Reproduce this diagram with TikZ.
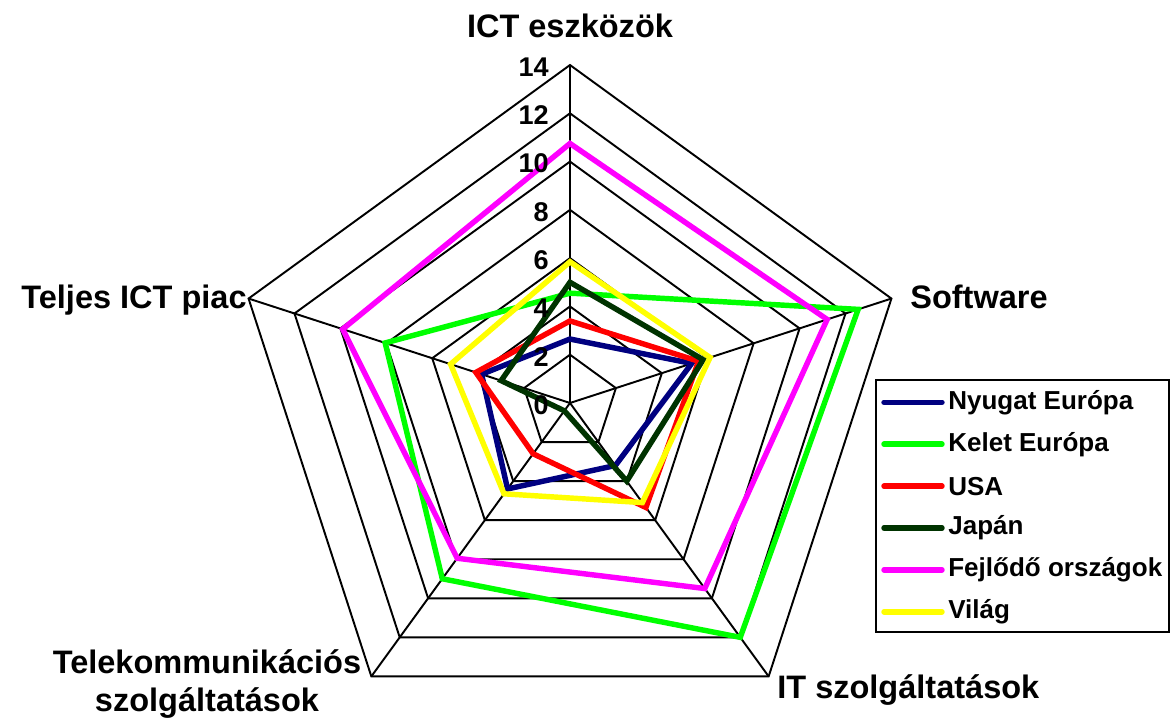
\documentclass[tikz,border=0pt]{standalone}
\usepackage{fontspec}
\setmainfont{Liberation Sans}
\usetikzlibrary{positioning, calc}

\definecolor{nyugatblue}{RGB}{0, 0, 128}
\definecolor{keletgreen}{RGB}{0, 255, 0}
\definecolor{usared}{RGB}{255, 0, 0}
\definecolor{japangreen}{RGB}{0, 51, 0}
\definecolor{fejlmagenta}{RGB}{255, 0, 255}
\definecolor{vilagyellow}{RGB}{255, 255, 0}

% one unit of the scale, in cm
\newcommand{\ru}{0.4828}
% one series: colour, then ICT eszközök, Software, IT szolg., Telekom., Teljes ICT piac
\newcommand{\radarline}[6]{%
  \draw[series, #1] ({90}:{#2*\ru}) -- ({18}:{#3*\ru}) -- ({-54}:{#4*\ru})
    -- ({-126}:{#5*\ru}) -- ({162}:{#6*\ru}) -- cycle;}

\begin{document}
\begin{tikzpicture}[
  gridline/.style={black, line width=1.1pt, line join=miter},
  series/.style={line width=3.1pt, line join=miter},
  axislabel/.style={font=\bfseries\fontsize{18.5}{21.6}\selectfont, inner sep=0pt},
  ticklabel/.style={font=\bfseries\fontsize{15.4}{18}\selectfont, inner sep=0pt, anchor=east},
  legendtext/.style={font=\bfseries\fontsize{14.8}{18}\selectfont, inner sep=0pt, anchor=west}
]
  \useasboundingbox (-11.4, -6.38) rectangle (12.04, 8.06);

  % Grid
  \coordinate (c) at (0, 0);
  \foreach \l in {2, 4, ..., 14}
    \draw[gridline] ({90}:{\l*\ru}) -- ({18}:{\l*\ru}) -- ({-54}:{\l*\ru})
      -- ({-126}:{\l*\ru}) -- ({162}:{\l*\ru}) -- cycle;
  \foreach \a [count=\i] in {90, 18, -54, -126, 162} {
    \coordinate (ax\i) at ({\a}:{14*\ru});
    \draw[gridline] (c) -- (ax\i);
  }

  % Series
  \radarline{nyugatblue}{2.65}{5.3}{3.2}{4.4}{3.85}
  \radarline{keletgreen}{4.55}{12.55}{12.0}{9.0}{8.05}
  \radarline{usared}{3.4}{5.6}{5.35}{2.6}{4.1}
  \radarline{japangreen}{5.0}{5.8}{4.0}{0.4}{3.0}
  \radarline{fejlmagenta}{10.75}{11.2}{9.5}{7.95}{9.9}
  \radarline{vilagyellow}{5.85}{6.1}{5.1}{4.65}{5.2}

  % Scale
  \foreach \l in {0, 2, ..., 14}
    \node[ticklabel] (tick\l) at (-0.42, \l*\ru - 0.04) {\l};

  % Axis labels
  \node[axislabel, anchor=base] (ictdev) at (0, 7.3) {ICT eszközök};
  \node[axislabel, anchor=base west] (soft) at (6.8, 1.88) {Software};
  \node[axislabel, anchor=base west] (itserv) at (4.14, -5.92) {IT szolgáltatások};
  \node[axislabel, align=center] (telecom) at (-7.26, -5.62) {Telekommunikációs\\szolgáltatások};
  \node[axislabel, anchor=base east] (total) at (-6.46, 1.88) {Teljes ICT piac};

  % Legend
  \node[draw, line width=1.1pt, minimum width=5.86cm, minimum height=5.04cm, inner sep=0pt] (legend) at (9.05, -2.06) {};
  \foreach \name/\col [count=\i] in {Nyugat Európa/nyugatblue, Kelet Európa/keletgreen, USA/usared,
      Japán/japangreen, Fejlődő országok/fejlmagenta, Világ/vilagyellow} {
    \coordinate (leg\i) at (6.28, {0.014 - (\i-1)*0.838});
    \coordinate (legend\i) at ($(leg\i) + (1.16, 0)$);
    \draw[series, \col, line cap=round] (leg\i) -- (legend\i);
    \node[legendtext, right=0.12cm of legend\i] (legtext\i) {\name};
  }
\end{tikzpicture}
\end{document}
